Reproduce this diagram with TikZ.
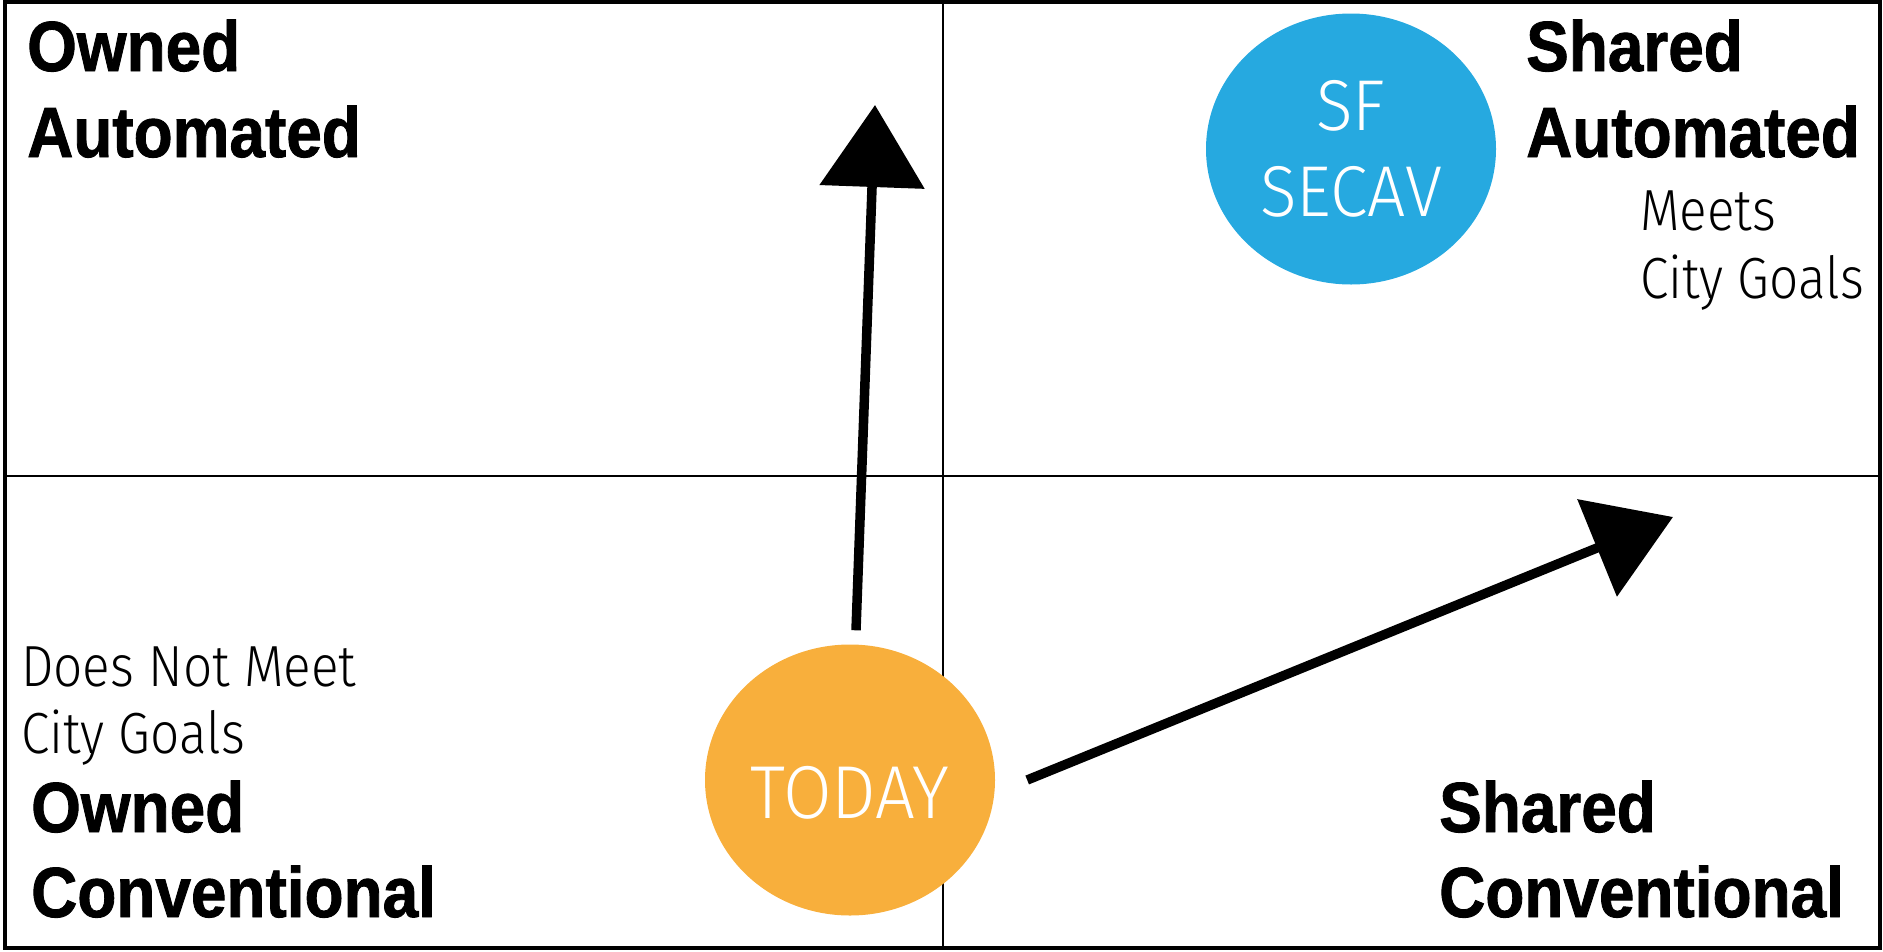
\documentclass[tikz,border=0pt]{standalone}
\usepackage{fontspec}
\usetikzlibrary{arrows.meta,shapes.geometric}
\newfontfamily\headfont[FakeStretch=0.90,BoldFeatures={FakeBold=1.2}]{Liberation Sans}
\IfFontExistsTF{Fira Sans Light}{%
  \newfontfamily\notefont[FakeStretch=0.885]{Fira Sans Light}%
  \newfontfamily\circfont[FakeStretch=0.94]{Fira Sans Light}%
  \newcommand\notesize{\fontsize{58}{68}\selectfont}%
  \newcommand\circsize{\fontsize{72}{86}\selectfont}%
  \newcommand\todaysize{\fontsize{75}{86}\selectfont}%
}{%
  \newfontfamily\notefont[FakeStretch=0.89]{Liberation Sans}%
  \newfontfamily\circfont[FakeStretch=0.78]{Liberation Sans}%
  \newcommand\notesize{\fontsize{56}{68}\selectfont}%
  \newcommand\circsize{\fontsize{70}{86}\selectfont}%
  \newcommand\todaysize{\fontsize{72}{86}\selectfont}%
}
\definecolor{secavblue}{HTML}{26A9E0}
\definecolor{todayorange}{HTML}{F8AF3C}
\tikzset{
  head/.style={anchor=base west, inner sep=0pt, font=\headfont\bfseries\fontsize{71}{86}\selectfont},
  note/.style={anchor=base west, inner sep=0pt, font=\notefont\notesize},
  blob/.style={ellipse, inner sep=0pt, minimum width=290pt, minimum height=271pt, text=white,
    font=\circfont\circsize, align=center},
  arr/.style={line width=9.5pt, -{Triangle[length=82pt,width=103pt]}},
  frame/.style={line width=4pt},
  divider/.style={line width=2.5pt},
}
\begin{document}
\begin{tikzpicture}[x=1pt,y=-1pt]
\useasboundingbox (0,0) rectangle (1883,951);
% frame and quadrant dividers
\draw[frame] (5,2) rectangle (1880,947.5);
\draw[divider] (943,2) -- (943,947.5);
\draw[divider] (5,476) -- (1880,476);
% quadrant titles
\node[head] (oa1) at (27,71) {Owned};
\node[head] (oa2) at (27,157) {Automated};
\node[head] (sa1) at (1526,71) {Shared};
\node[head] (sa2) at (1526,157) {Automated};
\node[head] (oc1) at (31,832) {Owned};
\node[head] (oc2) at (31,917) {Conventional};
\node[head] (sc1) at (1439,832) {Shared};
\node[head] (sc2) at (1439,917) {Conventional};
% notes
\node[note] (m1) at (1640,230) {Meets};
\node[note] (m2) at (1640,298) {City Goals};
\node[note] (d1) at (21,686) {Does Not Meet};
\node[note] (d2) at (21,753) {City Goals};
% circles
\node[blob, fill=secavblue] (secav) at (1351,149) {SF\\SECAV};
\node[blob, fill=todayorange, font=\circfont\todaysize] (today) at (850,780) {\raisebox{-38pt}[0pt][0pt]{TODAY}};
% arrows
\coordinate (upEnd) at (875,105);
\coordinate (rightEnd) at (1673,517);
\draw[arr] ([shift={(6,-14)}]today.north) -- (upEnd);
\draw[arr] ([xshift=32pt]today.east) -- (rightEnd);
\end{tikzpicture}
\end{document}
